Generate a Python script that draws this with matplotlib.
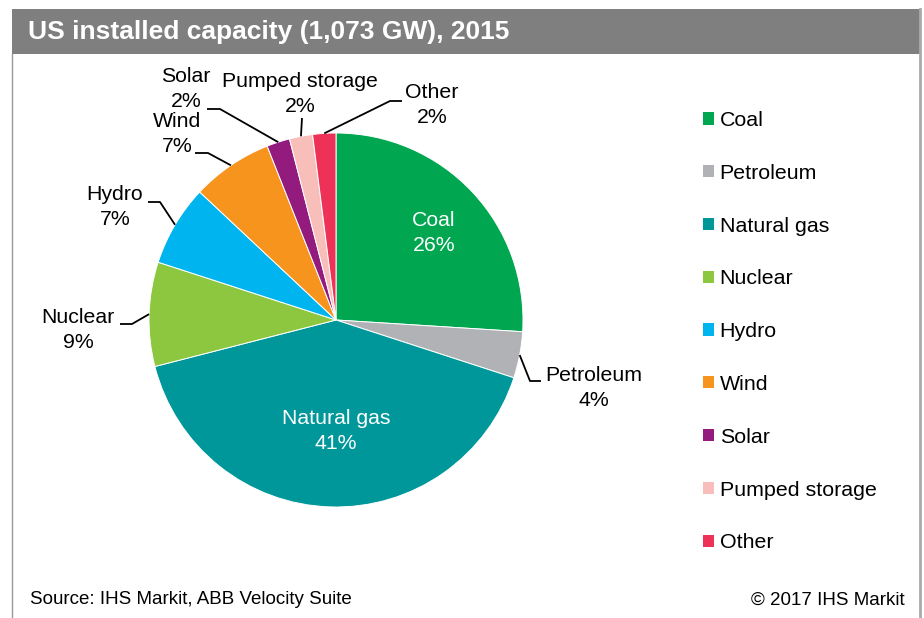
import numpy as np
import matplotlib.pyplot as plt
from matplotlib.patches import Rectangle

plt.rcParams['font.family'] = ['Liberation Sans', 'DejaVu Sans']

# Data
sources = ["Coal", "Petroleum", "Natural gas", "Nuclear", "Hydro",
           "Wind", "Solar", "Pumped storage", "Other"]
shares = [26, 4, 41, 9, 7, 7, 2, 2, 2]
colors = ["#00a650", "#b1b2b5", "#00979a", "#8dc63f", "#00b4ef",
          "#f7941e", "#931b7e", "#f8bfba", "#ee3157"]

# layout in pixels (figure is 924 x 618, pie centre and radius)
W, H = 924, 618
CX, CY, R = 336, 320, 187


def P(x, y):
    # pixel position -> data coordinates of the pie axes
    return (x - CX) / R, (CY - y) / R


fig = plt.figure(figsize=(W / 100, H / 100), dpi=100)
ax = fig.add_axes([0, 0, 1, 1])

wedges, _ = ax.pie(shares, colors=colors, startangle=90, counterclock=False,
                   radius=1, wedgeprops=dict(edgecolor="white", linewidth=0.7))

ax.set_xlim(-CX / R, (W - CX) / R)
ax.set_ylim((CY - H) / R, CY / R)
ax.set_aspect("auto")
ax.axis("off")

# header bar and frame
x0, y0 = P(12, 54)
x1, y1 = P(920, 9)
ax.add_patch(Rectangle((x0, y0), x1 - x0, y1 - y0, facecolor="#7f7f7f",
                       edgecolor="none", zorder=0))
ax.plot([P(12, 54)[0], P(12, 618)[0]], [P(12, 54)[1], P(12, 618)[1]],
        color="#999999", lw=1)
ax.plot([P(920, 9)[0], P(920, 618)[0]], [P(920, 9)[1], P(920, 618)[1]],
        color="#aaaaaa", lw=2)
ax.text(*P(28, 32), "US installed capacity (1,073 GW), 2015", color="white",
        fontsize=19, fontweight="bold", ha="left", va="center")

# labels inside the big slices
inside = {"Coal": (434, 233), "Natural gas": (336, 431)}
for name, val in zip(sources, shares):
    if name in inside:
        ax.text(*P(*inside[name]), f"{name}\n{val}%", color="white",
                fontsize=15.3, ha="center", va="center", linespacing=1.35)

# labels outside with leader lines: text centre, knee, end of line
outside = {
    "Petroleum": ((594, 388), (530, 381), (541, 381)),
    "Nuclear": ((78, 330), (132, 324), (120, 324)),
    "Hydro": ((115, 207), (160, 202), (148, 202)),
    "Wind": ((177, 134), (208, 153), (195, 153)),
    "Solar": ((186, 89), (220, 109), (207, 109)),
    "Pumped storage": ((300, 94), (302, 118), (302, 118)),
    "Other": ((432, 105), (390, 101), (402, 101)),
}
for w, name, val in zip(wedges, sources, shares):
    if name not in outside:
        continue
    txt, knee, end = outside[name]
    ang = np.deg2rad((w.theta1 + w.theta2) / 2)
    ex, ey = np.cos(ang), np.sin(ang)
    kx, ky = P(*knee)
    nx, ny = P(*end)
    ax.plot([ex, kx, nx], [ey, ky, ny], color="black", lw=1.3,
            solid_capstyle="butt")
    ax.text(*P(*txt), f"{name}\n{val}%", color="black", fontsize=15.3,
            ha="center", va="center", linespacing=1.35)

# legend
handles = [Rectangle((0, 0), 1, 1, facecolor=c) for c in colors]
ax.legend(handles, sources, loc="upper left",
          bbox_to_anchor=P(703, 111), bbox_transform=ax.transData,
          frameon=False, fontsize=15.4, handlelength=0.5, handleheight=0.5,
          handletextpad=0.28, labelspacing=1.58, borderpad=0, borderaxespad=0)

# footer
ax.text(*P(30, 600), "Source: IHS Markit, ABB Velocity Suite", fontsize=13.5,
        ha="left", va="center")
ax.text(*P(905, 600), "\u00a9 2017 IHS Markit", fontsize=13.5,
        ha="right", va="center")

fig.savefig("out.png", dpi=100)
